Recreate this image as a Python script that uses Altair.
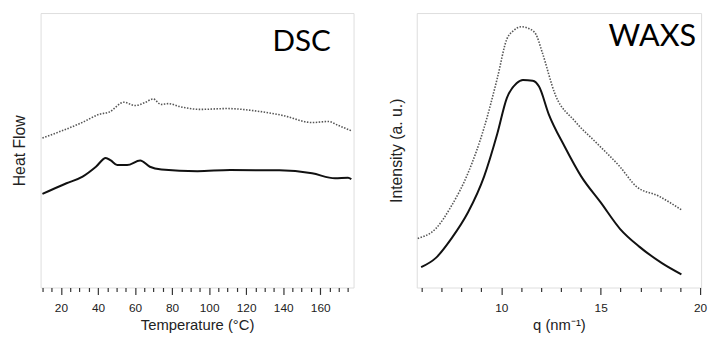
import altair as alt
import pandas as pd

# DSC data (temperature in °C, heat flow in arbitrary units)
dsc_dot_T = [10, 31.7, 40.7, 46, 54, 60, 65.4, 69.8, 74, 78, 84.8, 95.4, 109.6, 125.5, 139.7, 155.6, 164.4, 169.6, 176.8]
dsc_dot_v = [54.5, 60.2, 63.1, 63.9, 67.5, 66.3, 67.4, 68.7, 66.7, 67.0, 65.8, 64.9, 65.2, 64.3, 62.7, 60.1, 60.5, 59.1, 57.1]
dsc_sol_T = [10, 23, 31.7, 38.9, 44.2, 46.9, 50.4, 55.7, 62.8, 68, 74.3, 93.7, 111.4, 138, 155.6, 168, 175, 176.8]
dsc_sol_v = [34.1, 38.0, 40.4, 44.0, 47.2, 46.3, 44.6, 44.6, 46.3, 44.0, 43.0, 42.4, 42.8, 42.7, 41.6, 39.8, 40.0, 39.5]

# WAXS data (q in nm^-1, intensity in arbitrary units)
waxs_sol_q = [5.97, 6.7, 7.5, 8.33, 9.14, 9.8, 10.28, 10.77, 11.09, 11.58, 11.9, 12.39, 13.2, 14.02, 15, 15.97, 16.94, 18.08, 19.06]
waxs_sol_v = [7.4, 10.7, 17.9, 27.4, 40.5, 56.0, 69.0, 74.4, 75.6, 75.3, 73.2, 63.1, 51.2, 40.5, 31.0, 21.4, 14.9, 8.9, 4.8]
waxs_dot_q = [5.8, 6.7, 7.5, 8.33, 9.14, 9.8, 10.28, 10.6, 11.0, 11.41, 11.74, 12.06, 12.72, 13.69, 14.83, 15.97, 16.78, 17.92, 19.06]
waxs_dot_v = [17.9, 21.4, 29.8, 41.7, 58.3, 76.2, 90.5, 93.5, 95.0, 94.3, 92.3, 85.7, 70.2, 60.7, 52.4, 44.0, 36.9, 33.3, 28.3]

dsc_ticks = list(range(10, 180, 5))
waxs_ticks = list(range(6, 21))

FONT = "Liberation Sans"
LINE_SOLID = "#111111"
LINE_DOT = "#555555"

dsc_dot = pd.DataFrame({"T": dsc_dot_T, "v": dsc_dot_v})
dsc_sol = pd.DataFrame({"T": dsc_sol_T, "v": dsc_sol_v})
waxs_dot = pd.DataFrame({"q": waxs_dot_q, "v": waxs_dot_v})
waxs_sol = pd.DataFrame({"q": waxs_sol_q, "v": waxs_sol_v})

yaxis_common = dict(ticks=False, labels=False, grid=False, domain=False,
                    titleFont=FONT, titleFontSize=16, titleFontWeight="normal",
                    titleColor="#222222")

def xaxis(title, values, major_test, flush):
    return alt.Axis(title=title, values=values, tickCount=500, format="d",
                    grid=False, domain=False,
                    tickColor="#333333", tickWidth=1.2,
                    tickSize={"condition": {"test": major_test, "value": 7}, "value": 4},
                    labelExpr=f"({major_test}) ? datum.label : ''",
                    labelFont=FONT, labelFontSize=12, labelColor="#222222",
                    labelPadding=8, labelFlush=flush, labelOverlap=False,
                    titleFont=FONT, titleFontSize=15, titleFontWeight="normal",
                    titleColor="#222222", titlePadding=5)

x_dsc = alt.X("T:Q", scale=alt.Scale(domain=[9, 178], nice=False, zero=False),
              axis=xaxis("Temperature (°C)", dsc_ticks, "datum.value % 20 === 0", False))
y_dsc = alt.Y("v:Q", scale=alt.Scale(domain=[0, 100], nice=False),
              axis=alt.Axis(title="Heat Flow", titlePadding=13, **yaxis_common))

dsc_dot_line = alt.Chart(dsc_dot).mark_line(
    color=LINE_DOT, strokeWidth=1.6, strokeDash=[1.5, 1.5], interpolate="monotone"
).encode(x=x_dsc, y=y_dsc)
dsc_sol_line = alt.Chart(dsc_sol).mark_line(
    color=LINE_SOLID, strokeWidth=2, interpolate="monotone"
).encode(x="T:Q", y="v:Q")
dsc_label = alt.Chart(pd.DataFrame({"label": ["DSC"]})).mark_text(
    font="Lato", fontSize=30, align="right", baseline="alphabetic", color="#000000"
).encode(text="label:N", x=alt.value(294), y=alt.value(38))

dsc = alt.layer(dsc_dot_line, dsc_sol_line, dsc_label).properties(width=317, height=278)

x_waxs = alt.X("q:Q", scale=alt.Scale(domain=[5.75, 20.05], nice=False, zero=False),
               axis=xaxis("q (nm⁻¹)", waxs_ticks, "datum.value % 5 === 0", True))
y_waxs = alt.Y("v:Q", scale=alt.Scale(domain=[0, 100], nice=False),
               axis=alt.Axis(title="Intensity (a. u.)", titlePadding=12, **yaxis_common))

waxs_dot_line = alt.Chart(waxs_dot).mark_line(
    color=LINE_DOT, strokeWidth=1.6, strokeDash=[1.5, 1.5], interpolate="monotone"
).encode(x=x_waxs, y=y_waxs)
waxs_sol_line = alt.Chart(waxs_sol).mark_line(
    color=LINE_SOLID, strokeWidth=2, interpolate="monotone"
).encode(x="q:Q", y="v:Q")
waxs_label = alt.Chart(pd.DataFrame({"label": ["WAXS"]})).mark_text(
    font="Lato", fontSize=31, align="right", baseline="alphabetic", color="#000000"
).encode(text="label:N", x=alt.value(283), y=alt.value(33))

waxs = alt.layer(waxs_dot_line, waxs_sol_line, waxs_label).properties(width=288, height=278)

chart = alt.hconcat(dsc, waxs, spacing=32).properties(
    padding={"left": 3, "top": 2, "right": 0, "bottom": 0}
).configure_view(
    stroke="#444444", strokeWidth=1.5
).configure(background="white")

chart.save("out.html", embed_options={"renderer": "svg", "actions": False})
